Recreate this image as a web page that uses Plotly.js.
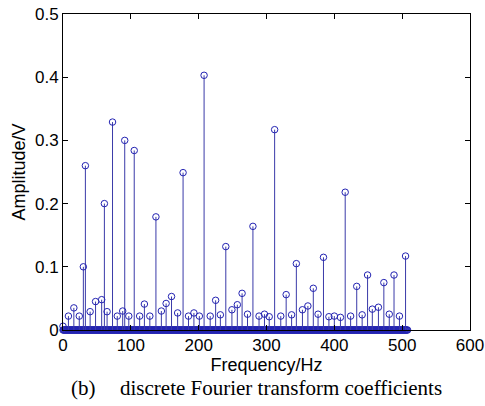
<!DOCTYPE html>
<html>
<head>
<meta charset="utf-8">
<script src="https://cdn.plot.ly/plotly-3.0.1.min.js"></script>
<style>html,body{margin:0;padding:0;background:#fff;}#chart{width:485px;height:406px;}</style>
</head>
<body>
<div id="chart"></div>
<script>
// Nonzero DFT coefficients (frequency in Hz, amplitude in V)
const peakFreq = [0, 8, 16, 24, 30, 33, 40, 48, 57, 61, 65, 73, 80, 88, 91, 97, 105, 113, 120, 128,
  137, 145, 152, 160, 169, 177, 185, 193, 201, 208, 217, 225, 232, 240, 249, 257, 264, 272, 280, 289,
  297, 304, 312, 321, 329, 337, 344, 353, 361, 369, 376, 384, 392, 400, 409, 416, 424, 433, 441, 449,
  456, 465, 473, 481, 488, 496, 505];
const peakAmp = [0.006, 0.022, 0.035, 0.022, 0.100, 0.260, 0.029, 0.045, 0.048, 0.200, 0.029, 0.329, 0.022, 0.030, 0.300, 0.022, 0.284, 0.022, 0.041, 0.022,
  0.179, 0.030, 0.042, 0.053, 0.027, 0.249, 0.022, 0.027, 0.022, 0.403, 0.022, 0.047, 0.024, 0.132, 0.032, 0.040, 0.058, 0.025, 0.164, 0.022,
  0.025, 0.021, 0.317, 0.022, 0.056, 0.024, 0.105, 0.032, 0.038, 0.066, 0.025, 0.115, 0.021, 0.022, 0.020, 0.218, 0.022, 0.069, 0.024, 0.087,
  0.033, 0.036, 0.075, 0.025, 0.087, 0.022, 0.117];

// Zero-valued coefficients along the baseline (one per Hz bin)
const zeroStart = 0, zeroEnd = 508;
const zeroFreq = [], zeroAmp = [];
for (let f = zeroStart; f <= zeroEnd; f++) { zeroFreq.push(f); zeroAmp.push(0); }

const xTicks = [0, 100, 200, 300, 400, 500, 600];
const yTicks = [0, 0.1, 0.2, 0.3, 0.4, 0.5];
const yTickText = ['0', '0.1', '0.2', '0.3', '0.4', '0.5'];

const markerColor = '#2323b2';
const stemColor = '#3a3aa8';

const traces = [
  {
    x: zeroFreq, y: zeroAmp, type: 'scatter', mode: 'markers', cliponaxis: false,
    marker: {symbol: 'circle-open', size: 6.5, color: markerColor, line: {width: 1, color: markerColor}},
    hoverinfo: 'skip'
  },
  {
    x: peakFreq, y: peakAmp, type: 'scatter', mode: 'markers', cliponaxis: false,
    marker: {symbol: 'circle-open', size: 6.5, color: markerColor, line: {width: 1, color: markerColor}},
    error_y: {type: 'data', symmetric: false, array: peakAmp.map(() => 0), arrayminus: peakAmp,
      width: 0, thickness: 1, color: stemColor}
  }
];

const axisFont = {family: 'Liberation Sans, Arial, sans-serif', size: 17, color: '#000'};

const layout = {
  width: 485, height: 406,
  margin: {l: 63, r: 15, t: 14, b: 76, pad: 0},
  paper_bgcolor: '#fff', plot_bgcolor: '#fff',
  showlegend: false,
  xaxis: {
    range: [0, 600], tickvals: xTicks, ticktext: xTicks.map(String),
    ticks: 'inside', ticklen: 5, tickcolor: '#000', tickwidth: 1,
    showline: true, linecolor: '#000', linewidth: 1, mirror: 'ticks',
    showgrid: false, zeroline: false, tickfont: axisFont,
    title: {text: 'Frequency/Hz', font: {family: 'Liberation Sans, Arial, sans-serif', size: 18, color: '#000'}, standoff: 2}
  },
  yaxis: {
    range: [0, 0.5], tickvals: yTicks, ticktext: yTickText,
    ticks: 'inside', ticklen: 5, tickcolor: '#000', tickwidth: 1,
    showline: true, linecolor: '#000', linewidth: 1, mirror: 'ticks',
    showgrid: false, zeroline: false, tickfont: axisFont,
    title: {text: 'Amplitude/V', font: {family: 'Liberation Sans, Arial, sans-serif', size: 18, color: '#000'}, standoff: 4}
  },
  annotations: [
    {text: '(b)', xref: 'paper', yref: 'paper', x: (83 - 63) / 407, y: (330 - 388) / 316, xanchor: 'center', yanchor: 'middle',
      showarrow: false, font: {family: 'Liberation Serif, Times New Roman, serif', size: 21, color: '#000'}},
    {text: 'discrete Fourier transform coefficients', xref: 'paper', yref: 'paper', x: (118 - 63) / 407, y: (330 - 388) / 316,
      xanchor: 'left', yanchor: 'middle', showarrow: false,
      font: {family: 'Liberation Serif, Times New Roman, serif', size: 21, color: '#000'}}
  ]
};

Plotly.newPlot('chart', traces, layout, {displayModeBar: false, staticPlot: true});
</script>
</body>
</html>
